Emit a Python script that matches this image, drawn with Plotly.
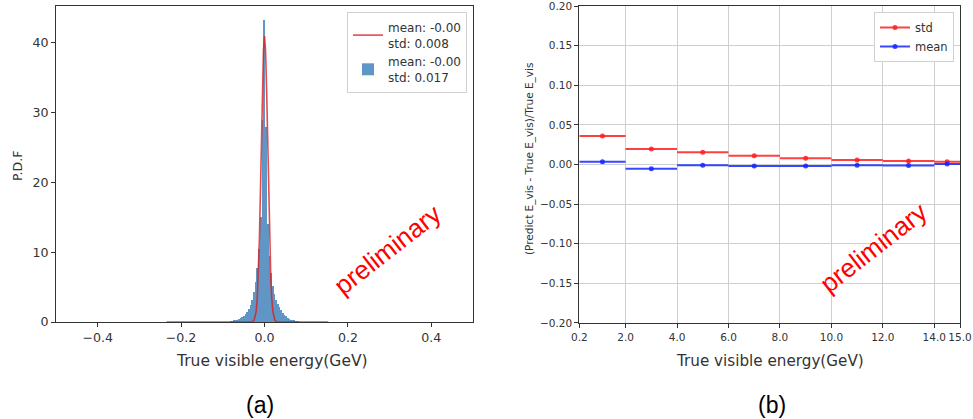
import plotly.graph_objects as go

W, H = 973, 419

# ---------------- data: panel (a) ----------------
hist_centers = [-0.080, -0.076, -0.072, -0.068, -0.064, -0.060, -0.056, -0.052, -0.048, -0.044,
                -0.040, -0.036, -0.032, -0.028, -0.024, -0.020, -0.016, -0.012, -0.008, -0.004,
                0.000, 0.004, 0.008, 0.012, 0.016, 0.020, 0.024, 0.028, 0.032, 0.036,
                0.040, 0.044, 0.048, 0.052, 0.056, 0.060, 0.064, 0.068, 0.072, 0.076, 0.080]
hist_heights = [0.08, 0.12, 0.18, 0.25, 0.33, 0.42, 0.55, 0.7, 0.9, 1.15,
                1.5, 1.9, 2.5, 3.2, 4.3, 5.8, 7.8, 10.5, 15.0, 29.0,
                43.3, 28.0, 14.0, 9.5, 7.0, 5.2, 4.0, 3.2, 2.6, 2.1,
                1.7, 1.35, 1.05, 0.8, 0.6, 0.45, 0.33, 0.24, 0.17, 0.11, 0.07]
hist_bin_width = 0.004

fit_x = [-0.235, -0.06, -0.04, -0.03, -0.025, -0.02, -0.0175, -0.015, -0.0125, -0.01, -0.0075,
         -0.005, -0.0025, 0.0, 0.0025, 0.005, 0.0075, 0.01, 0.0125, 0.015, 0.0175, 0.02,
         0.025, 0.03, 0.04, 0.06, 0.153]
fit_y = [0.0, 0.0, 0.002, 0.03, 0.24, 1.5, 3.3, 6.4, 11.35, 18.0, 25.8,
         33.4, 38.95, 41.0, 38.95, 33.4, 25.8, 18.0, 11.35, 6.4, 3.3, 1.5,
         0.24, 0.03, 0.002, 0.0, 0.0]

leg_red = "mean: -0.00<br>std: 0.008"
leg_blue = "mean: -0.00<br>std: 0.017"

# ---------------- data: panel (b) ----------------
bin_lo = [0.2, 2.0, 4.0, 6.0, 8.0, 10.0, 12.0, 14.0]
bin_hi = [2.0, 4.0, 6.0, 8.0, 10.0, 12.0, 14.0, 15.0]
std_vals = [0.036, 0.0197, 0.0155, 0.011, 0.0078, 0.0057, 0.0045, 0.0035]
mean_vals = [0.0035, -0.0055, -0.001, -0.002, -0.002, -0.001, -0.0012, 0.0005]
xticks_b = [0.2, 2.0, 4.0, 6.0, 8.0, 10.0, 12.0, 14.0, 15.0]
xticklabels_b = ["0.2", "2.0", "4.0", "6.0", "8.0", "10.0", "12.0", "14.0", "15.0"]

bin_c = [(a + b) / 2 for a, b in zip(bin_lo, bin_hi)]
bin_e = [(b - a) / 2 for a, b in zip(bin_lo, bin_hi)]

# ---------------- helpers ----------------
def px(x):
    return x / W

def py(y):
    return 1 - y / H

FONT = "DejaVu Sans"
AX = "#333333"
RED = "rgba(255,30,30,0.85)"
BLUE = "rgba(20,40,255,0.85)"

fig = go.Figure()

fig.add_trace(go.Bar(x=hist_centers, y=hist_heights, width=hist_bin_width,
                     marker=dict(color="rgb(96,150,198)", line=dict(width=0)),
                     name=leg_blue, legendrank=2, xaxis="x", yaxis="y", legend="legend"))
fig.add_trace(go.Scatter(x=fit_x, y=fit_y, mode="lines",
                         line=dict(color="rgba(220,30,30,0.8)", width=1.6),
                         name=leg_red, legendrank=1, xaxis="x", yaxis="y", legend="legend"))

# panel (b)
fig.add_trace(go.Scatter(x=bin_c, y=std_vals, mode="markers",
                         marker=dict(color=RED, size=5),
                         error_x=dict(type="data", array=bin_e, color=RED, thickness=2, width=0),
                         showlegend=False, xaxis="x2", yaxis="y2"))
fig.add_trace(go.Scatter(x=bin_c, y=mean_vals, mode="markers",
                         marker=dict(color=BLUE, size=5),
                         error_x=dict(type="data", array=bin_e, color=BLUE, thickness=2, width=0),
                         showlegend=False, xaxis="x2", yaxis="y2"))
fig.add_trace(go.Scatter(x=[None], y=[None], mode="lines+markers", name="std",
                         line=dict(color=RED, width=2), marker=dict(color=RED, size=5),
                         xaxis="x2", yaxis="y2", legend="legend2"))
fig.add_trace(go.Scatter(x=[None], y=[None], mode="lines+markers", name="mean",
                         line=dict(color=BLUE, width=2), marker=dict(color=BLUE, size=5),
                         xaxis="x2", yaxis="y2", legend="legend2"))

axis_common = dict(showline=True, linecolor=AX, linewidth=1, mirror=True,
                   ticks="outside", ticklen=4, tickcolor=AX, zeroline=False,
                   ticklabeloverflow="allow")

fig.update_layout(
    width=W, height=H,
    margin=dict(l=0, r=0, t=0, b=0, autoexpand=False),
    paper_bgcolor="white", plot_bgcolor="white",
    font=dict(family=FONT, color="#333333"),
    bargap=0,
    xaxis=dict(domain=[px(56), px(473)], range=[-0.5, 0.5], anchor="y",
               tickvals=[-0.4, -0.2, 0.0, 0.2, 0.4], ticktext=["−0.4", "−0.2", "0.0", "0.2", "0.4"],
               tickfont=dict(size=12.6), showgrid=False, tickangle=0, **axis_common),
    yaxis=dict(domain=[py(322), py(6)], range=[0, 45.3], anchor="x",
               tickvals=[0, 10, 20, 30, 40], tickfont=dict(size=12.6), showgrid=False, **axis_common),
    xaxis2=dict(domain=[px(579.3), px(960)], range=[0.2, 15.0], anchor="y2",
                tickvals=xticks_b, ticktext=xticklabels_b, tickfont=dict(size=10.5), tickangle=0,
                showgrid=True, gridcolor="#cfcfcf", gridwidth=1, **axis_common),
    yaxis2=dict(domain=[py(323), py(6)], range=[-0.20001, 0.20001], anchor="x2",
                tickvals=[-0.2, -0.15, -0.1, -0.05, 0.0, 0.05, 0.1, 0.15, 0.2],
                ticktext=["−0.20", "−0.15", "−0.10", "−0.05", "0.00", "0.05", "0.10", "0.15", "0.20"],
                tickfont=dict(size=10.5),
                showgrid=True, gridcolor="#cfcfcf", gridwidth=1, **axis_common),
    legend=dict(x=px(467), y=py(12), xanchor="right", yanchor="top",
                bgcolor="white", bordercolor="#d0d0d0", borderwidth=1,
                font=dict(size=12, family=FONT, color="#333333"),
                tracegroupgap=2, itemwidth=30),
    legend2=dict(x=px(954), y=py(12), xanchor="right", yanchor="top",
                 bgcolor="white", bordercolor="#d0d0d0", borderwidth=1,
                 font=dict(size=11.5, family=FONT, color="#333333"), itemwidth=30),
)

annots = [
    dict(text="True visible energy(GeV)", x=px(272), y=py(361), font=dict(size=15.5, family=FONT, color="#333333")),
    dict(text="True visible energy(GeV)", x=px(770), y=py(361), font=dict(size=15.2, family=FONT, color="#333333")),
    dict(text="P.D.F", x=px(17), y=py(166), textangle=-90, font=dict(size=12.5, family=FONT, color="#333333")),
    dict(text="(Predict E_vis - True E_vis)/True E_vis", x=px(529), y=py(159), textangle=-90,
         font=dict(size=10.5, family=FONT, color="#333333")),
    dict(text="(a)", x=px(260), y=py(405), font=dict(size=23, family="Liberation Sans", color="black")),
    dict(text="(b)", x=px(772), y=py(405), font=dict(size=23, family="Liberation Sans", color="black")),
    dict(text="preliminary", x=px(387), y=py(250), textangle=-38, font=dict(size=26, family="Liberation Sans", color="red")),
    dict(text="preliminary", x=px(873), y=py(248), textangle=-38, font=dict(size=26, family="Liberation Sans", color="red")),
]
for a in annots:
    fig.add_annotation(xref="paper", yref="paper", showarrow=False, xanchor="center", yanchor="middle", **a)

fig.write_html("out.html", config={"displayModeBar": False},
               post_script="document.body.style.margin='0';document.body.style.overflow='hidden';")
